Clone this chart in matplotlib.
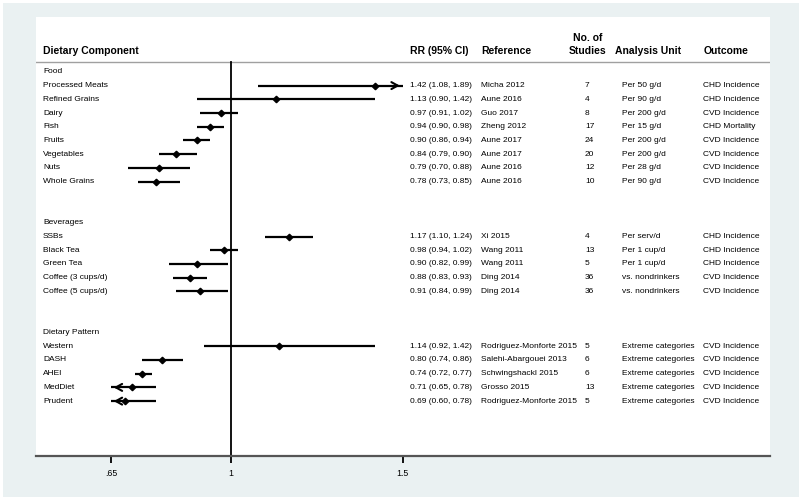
import matplotlib.pyplot as plt
from matplotlib.patches import Rectangle

plt.rcParams['font.family'] = ['Liberation Sans', 'DejaVu Sans']

groups = ['Food', 'Beverages', 'Dietary Pattern']
food_names = ['Processed Meats', 'Refined Grains', 'Dairy', 'Fish', 'Fruits', 'Vegetables', 'Nuts', 'Whole Grains']
food_rr = [1.42, 1.13, 0.97, 0.94, 0.90, 0.84, 0.79, 0.78]
food_lo = [1.08, 0.90, 0.91, 0.90, 0.86, 0.79, 0.70, 0.73]
food_hi = [1.89, 1.42, 1.02, 0.98, 0.94, 0.90, 0.88, 0.85]
food_ref = ['Micha 2012', 'Aune 2016', 'Guo 2017', 'Zheng 2012', 'Aune 2017', 'Aune 2017', 'Aune 2016', 'Aune 2016']
food_n = [7, 4, 8, 17, 24, 20, 12, 10]
food_unit = ['Per 50 g/d', 'Per 90 g/d', 'Per 200 g/d', 'Per 15 g/d', 'Per 200 g/d', 'Per 200 g/d', 'Per 28 g/d', 'Per 90 g/d']
food_out = ['CHD Incidence', 'CHD Incidence', 'CVD Incidence', 'CHD Mortality', 'CVD Incidence', 'CVD Incidence', 'CVD Incidence', 'CVD Incidence']

bev_names = ['SSBs', 'Black Tea', 'Green Tea', 'Coffee (3 cups/d)', 'Coffee (5 cups/d)']
bev_rr = [1.17, 0.98, 0.90, 0.88, 0.91]
bev_lo = [1.10, 0.94, 0.82, 0.83, 0.84]
bev_hi = [1.24, 1.02, 0.99, 0.93, 0.99]
bev_ref = ['Xi 2015', 'Wang 2011', 'Wang 2011', 'Ding 2014', 'Ding 2014']
bev_n = [4, 13, 5, 36, 36]
bev_unit = ['Per serv/d', 'Per 1 cup/d', 'Per 1 cup/d', 'vs. nondrinkers', 'vs. nondrinkers']
bev_out = ['CHD Incidence', 'CHD Incidence', 'CHD Incidence', 'CVD Incidence', 'CVD Incidence']

pat_names = ['Western', 'DASH', 'AHEI', 'MedDiet', 'Prudent']
pat_rr = [1.14, 0.80, 0.74, 0.71, 0.69]
pat_lo = [0.92, 0.74, 0.72, 0.65, 0.60]
pat_hi = [1.42, 0.86, 0.77, 0.78, 0.78]
pat_ref = ['Rodriguez-Monforte 2015', 'Salehi-Abargouei 2013', 'Schwingshackl 2015', 'Grosso 2015', 'Rodriguez-Monforte 2015']
pat_n = [5, 6, 6, 13, 5]
pat_unit = ['Extreme categories'] * 5
pat_out = ['CVD Incidence'] * 5

sections = [
    (groups[0], food_names, food_rr, food_lo, food_hi, food_ref, food_n, food_unit, food_out),
    (groups[1], bev_names, bev_rr, bev_lo, bev_hi, bev_ref, bev_n, bev_unit, bev_out),
    (groups[2], pat_names, pat_rr, pat_lo, pat_hi, pat_ref, pat_n, pat_unit, pat_out),
]

xmin_clip, xmax_clip = 0.65, 1.5
bg = '#eaf1f2'

fig = plt.figure(figsize=(8, 4.99), dpi=100, facecolor='white')
fig.patches.append(Rectangle((3 / 800, 2 / 499), 796 / 800, 494 / 499, transform=fig.transFigure,
                             facecolor=bg, edgecolor='none', zorder=-10))
ax = fig.add_axes([36 / 800, 1 - 456 / 499, 734 / 800, 439 / 499])
ax.set_zorder(1)
ax.set_facecolor('white')
ax.set_xlim(0.4315, 2.571)
ax.set_ylim(28, -4)

tr = ax.get_yaxis_transform()
fs = 6.0
col_lab, col_rr, col_ref, col_n, col_unit, col_out = 0.0095, 0.510, 0.606, 0.748, 0.799, 0.909

# header
hfs = 7.5
ax.text(col_lab, -1.5, 'Dietary Component', transform=tr, fontsize=hfs, fontweight='bold', va='center')
ax.text(col_rr - 0.001, -1.5, 'RR (95% CI)', transform=tr, fontsize=hfs, fontweight='bold', va='center')
ax.text(col_ref, -1.5, 'Reference', transform=tr, fontsize=hfs, fontweight='bold', va='center')
ax.text(0.751, -2.5, 'No. of', transform=tr, fontsize=hfs, fontweight='bold', va='center', ha='center')
ax.text(0.751, -1.5, 'Studies', transform=tr, fontsize=hfs, fontweight='bold', va='center', ha='center')
ax.text(0.789, -1.5, 'Analysis Unit', transform=tr, fontsize=hfs, fontweight='bold', va='center')
ax.text(col_out, -1.5, 'Outcome', transform=tr, fontsize=hfs, fontweight='bold', va='center')
ax.axhline(-0.73, color='#a0a0a0', lw=1)

ax.plot([1, 1], [-0.73, 28], color='black', lw=1.3, zorder=2)

row = 0
for title, names, rr, lo, hi, refs, ns, units, outs in sections:
    ax.text(col_lab, row, title, transform=tr, fontsize=fs, va='center')
    row += 1
    for i in range(len(names)):
        y = row
        a = max(lo[i], xmin_clip)
        b = min(hi[i], xmax_clip)
        ax.plot([a, b], [y, y], color='black', lw=1.6, solid_capstyle='butt', zorder=3)
        if hi[i] > xmax_clip:
            ax.annotate('', xy=(xmax_clip, y), xytext=(xmax_clip - 0.03, y),
                        arrowprops=dict(arrowstyle='->, head_length=0.45, head_width=0.25', lw=1.5, color='black'))
        if lo[i] <= xmin_clip:
            ax.annotate('', xy=(xmin_clip, y), xytext=(xmin_clip + 0.03, y),
                        arrowprops=dict(arrowstyle='->, head_length=0.45, head_width=0.25', lw=1.5, color='black'))
        ax.plot(rr[i], y, marker='D', ms=3.3, color='black', zorder=4)
        ax.text(col_lab, y, names[i], transform=tr, fontsize=fs, va='center')
        ax.text(col_rr, y, f'{rr[i]:.2f} ({lo[i]:.2f}, {hi[i]:.2f})', transform=tr, fontsize=fs, va='center')
        ax.text(col_ref, y, refs[i], transform=tr, fontsize=fs, va='center')
        ax.text(col_n, y, str(ns[i]), transform=tr, fontsize=fs, va='center')
        ax.text(col_unit, y, units[i], transform=tr, fontsize=fs, va='center')
        ax.text(col_out, y, outs[i], transform=tr, fontsize=fs, va='center')
        row += 1
    row += 2

for s in ['top', 'right', 'left']:
    ax.spines[s].set_visible(False)
ax.spines['bottom'].set_color('#555555')
ax.spines['bottom'].set_linewidth(1.6)
ax.set_yticks([])
ax.set_xticks([0.65, 1, 1.5])
ax.set_xticklabels(['.65', '1', '1.5'])
ax.tick_params(axis='x', direction='out', length=5, width=1.3, labelsize=6.3, pad=4.5, color='black')

fig.savefig('out.png', dpi=100, facecolor=fig.get_facecolor())
